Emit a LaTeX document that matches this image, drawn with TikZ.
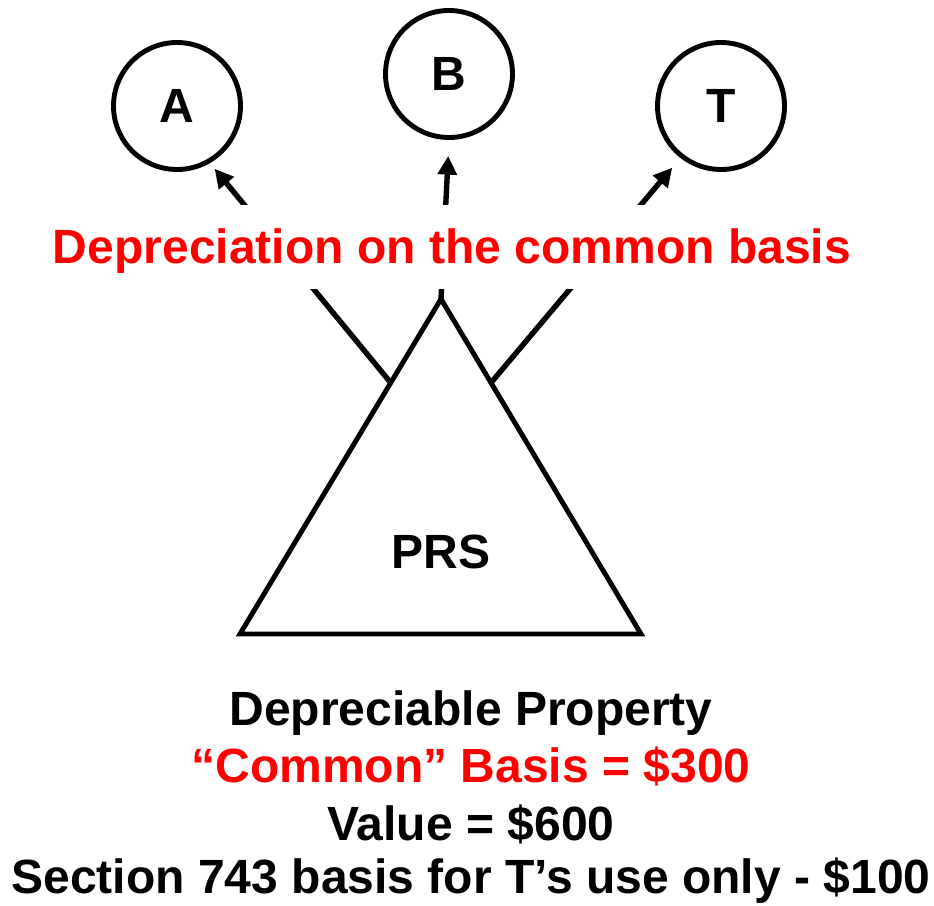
\documentclass[tikz,border=0pt]{standalone}
\usepackage{fontspec}
\setmainfont{Liberation Sans}
\usetikzlibrary{arrows.meta,calc}
\definecolor{cInk}{RGB}{0,0,0}
\definecolor{cRed}{RGB}{255,0,0}

\begin{document}
\begin{tikzpicture}[
  x=0.03cm,y=-0.03cm, color=cInk,
  big/.style    ={font=\fontsize{41pt}{48pt}\selectfont\bfseries},
  partner/.style={circle, draw=cInk, line width=4.2pt, minimum size=3.81cm, inner sep=0pt, big},
  edge/.style   ={draw=cInk, line width=4.2pt, line join=miter},
  share/.style  ={-{Triangle[length=0.56cm,width=0.56cm]}, line width=4.6pt, draw=cInk},
  caption/.style={big, anchor=base, inner sep=0pt},
]

\useasboundingbox (0,0) rectangle (934,906);

% ----- the three partners -----------------------------------------------
\node[partner] (A) at (177,106) {A};
\node[partner] (B) at (449,74)  {B};
\node[partner] (T) at (721,106) {T};

% ----- the partnership and its property ---------------------------------
\coordinate (apex) at (441,299);
\coordinate (bl)   at (240,634);
\coordinate (br)   at (641,634);
\draw[edge] (apex) -- (bl) -- (br) -- cycle;
\node[caption] (prs) at (441,568) {PRS};

% ----- depreciation shared out: leaves the sides, runs behind the label -
\coordinate (sl) at ($(apex)!0.25!(bl)$);
\coordinate (sr) at ($(apex)!0.25!(br)$);
\draw[share, shorten >=0.22cm] (sl)   -- (A.-60);
\draw[share, shorten >=0.48cm] (apex) -- (B.-90);
\draw[share, shorten >=0.38cm] (sr)   -- (T.-128);

% white box hides the arrows between 205 and 289
\node[caption, text=cRed, fill=white, text height=1.74cm, text depth=0.78cm, inner xsep=4pt]
      (dep) at (452,263) {Depreciation on the common basis};

% ----- the figures under the triangle -----------------------------------
\node[caption]             (prop)  at (471,725) {Depreciable Property};
\node[caption, text=cRed]  (basis) at (471,782) {“Common” Basis = \$300};
\node[caption]             (value) at (471,840) {Value = \$600};
\node[caption]             (s743)  at (471,893) {Section 743 basis for T’s use only - \$100};

\end{tikzpicture}
\end{document}
